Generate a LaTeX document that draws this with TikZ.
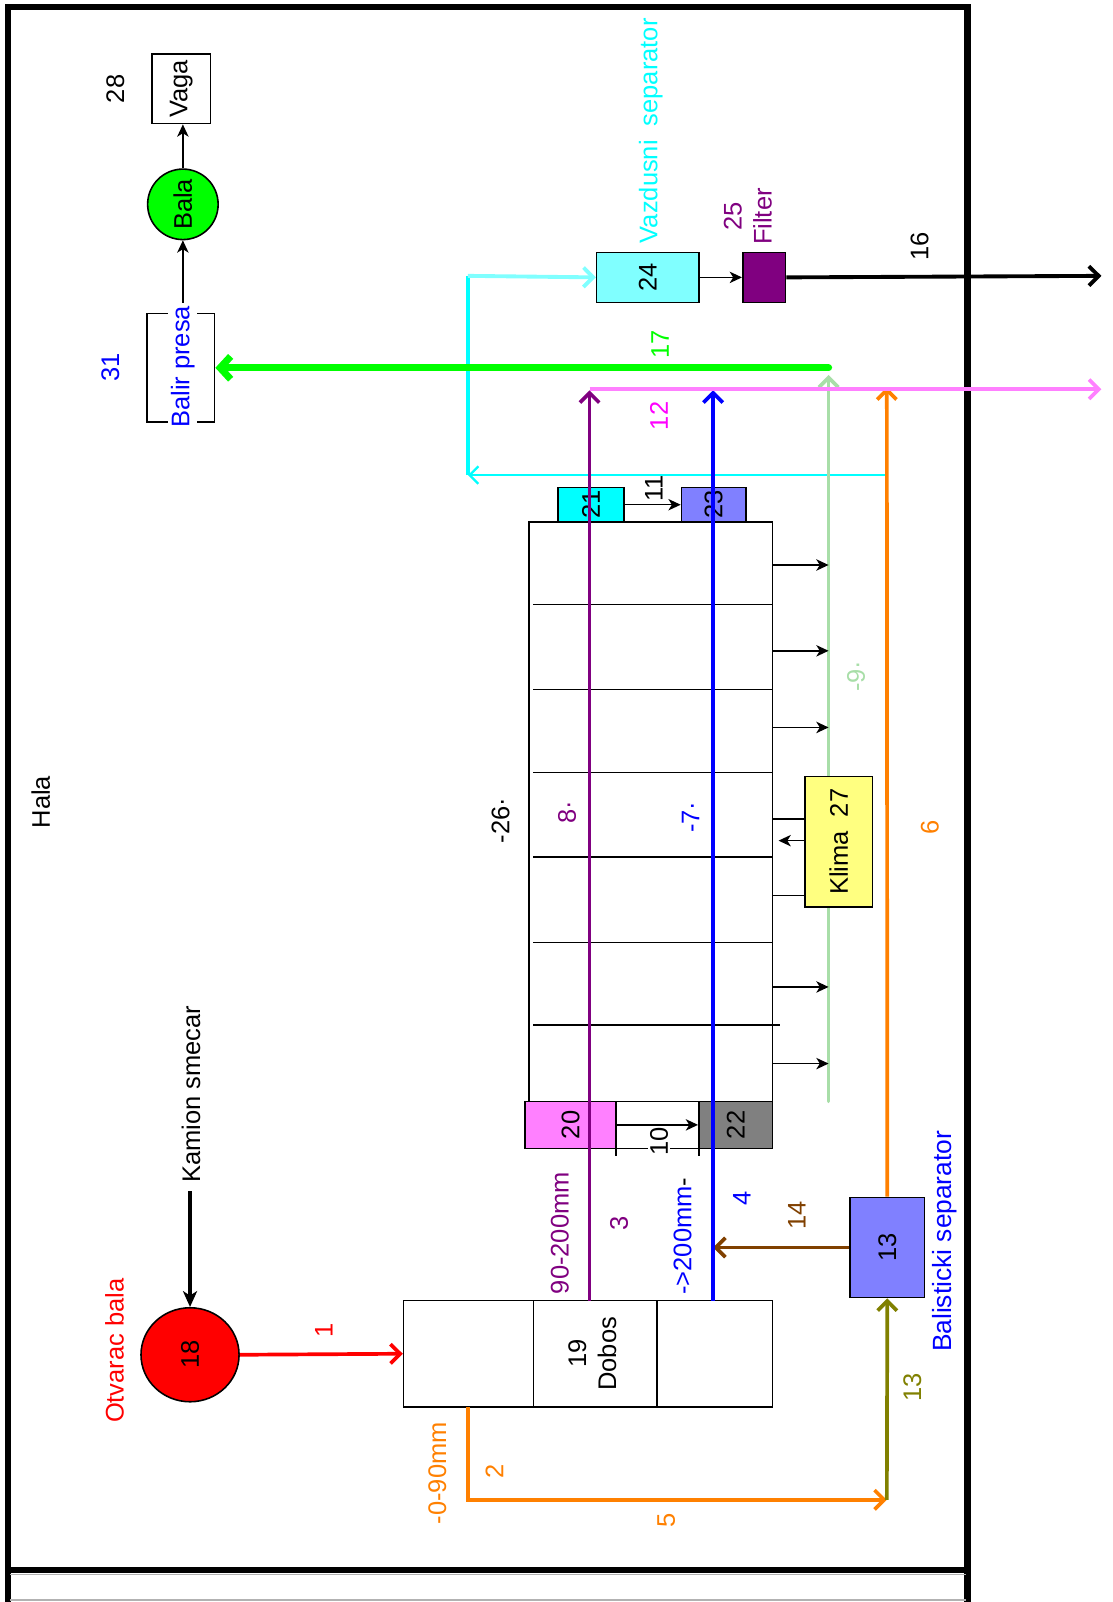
\documentclass[tikz,border=0pt]{standalone}
\usepackage{fontspec}
\setmainfont{Liberation Sans}
\usepackage{graphicx}
\usetikzlibrary{arrows.meta,shapes.geometric}
\definecolor{corange}{RGB}{255,128,0}
\definecolor{colive}{RGB}{128,128,0}
\definecolor{cpurple}{RGB}{128,0,128}
\definecolor{cbrown}{RGB}{128,64,0}
\definecolor{clgreen}{RGB}{168,222,168}
\definecolor{cgreen}{RGB}{0,255,0}
\definecolor{cpink}{RGB}{255,128,255}
\definecolor{cmagenta}{RGB}{255,0,255}
\definecolor{ccyan}{RGB}{0,255,255}
\definecolor{clcyan}{RGB}{128,255,255}
\definecolor{cblbox}{RGB}{128,128,255}
\definecolor{cgray}{RGB}{128,128,128}
\definecolor{cyellow}{RGB}{255,255,128}
\definecolor{cred}{RGB}{255,0,0}
\definecolor{cblue}{RGB}{0,0,255}
\def\uu{0.02043cm}
\begin{document}
\begin{tikzpicture}[x=0.02043cm,y=-0.02043cm,
  every node/.style={font=\fontsize{14.5}{17}\selectfont, inner sep=0pt},
  sz/.style 2 args={minimum width=#1*\uu, minimum height=#2*\uu},
  bx/.style={draw, line width=0.9pt, rectangle},
  lbl/.style={rotate=90},
  cline/.style={line width=2.1pt},
  chead/.style={-{Straight Barb[length=5.5pt,width=11pt]}},
  bhead/.style={-{Stealth[length=7pt,width=6.5pt,inset=2pt]}},
  tarrow/.style={line width=0.8pt, bhead},
]
\useasboundingbox (0,0) rectangle (1089,1568);
% frame
\draw[line width=3.5pt] (8,1575) -- (8,7) -- (947,7) -- (947,1575);
\draw[line width=3.5pt] (8,1537) -- (947,1537);
\draw[gray!60, line width=0.6pt] (10,1541) -- (945,1541) (10,1566) -- (945,1566);

% boxes
\node[bx, ellipse, sz={96}{92}, fill=cred] (n18) at (186,1326) {\rotatebox{90}{18}};
\node[bx, sz={127}{104}] (d1) at (458.5,1325) {};
\node[bx, sz={121}{104}] (d2) at (582.5,1325) {\rotatebox{90}{\begin{tabular}{@{}c@{}}19\\Dobos\end{tabular}}};
\node[bx, sz={113}{104}] (d3) at (699.5,1325) {};
\node[bx, sz={73}{98}, fill=cblbox] (n13) at (868.5,1221) {\rotatebox{90}{13}};
\node[bx, sz={238}{567}] (n26) at (637,794.5) {};
\node[bx, sz={89}{46}, fill=cpink] (n20) at (558.5,1101) {\rotatebox{90}{20}};
\node[bx, sz={81}{46}] (g10) at (643.5,1101) {};
\node[bx, sz={72}{46}, fill=cgray] (n22) at (720,1101) {\rotatebox{90}{22}};
\node[bx, sz={65}{34}, fill=ccyan] (n21) at (578.5,494) {\rotatebox{90}{21}};
\node[bx, sz={63}{34}, fill=cblbox] (n23) at (698.5,494) {\rotatebox{90}{23}};
\node[bx, sz={100}{49}, fill=clcyan] (n24) at (634,271.5) {\rotatebox{90}{24}};
\node[bx, sz={42}{49}, fill=cpurple] (n25) at (748,271.5) {};
\node[bx, sz={66}{106}] (n31) at (177,360) {};
\node[fill=white, text=cblue, rotate=90, inner sep=1.5pt] (t31) at (179,359) {Balir presa};
\node[bx, circle, sz={69}{69}, fill=cgreen] (bala) at (179,200) {\rotatebox{90}{Bala}};
\node[bx, sz={57}{68}] (vaga) at (177.5,87) {\rotatebox{90}{Vaga}};

% cabinet dividers
\foreach \yy in {591.5,674.7,756,839,922.3}
  \draw[line width=0.9pt] (522,\yy) -- (756,\yy);
\draw[line width=0.9pt] (522,1003.2) -- (763,1003.2);
% gap 10 ticks and label
\draw[line width=0.9pt] (603,1124) -- (603,1131) (684,1124) -- (684,1131);
\node[fill=white, rotate=90, inner sep=1pt] (t10) at (645,1117) {10};

% labels
\node[lbl] (thala) at (40,785) {Hala};
\node[lbl] (tkam) at (187,1071) {Kamion smecar};
\node[lbl, text=cred] (totv) at (112,1322) {Otvarac bala};
\node[lbl, text=cred] (t1) at (317,1302) {1};
\node[lbl, text=corange] (t090) at (428,1442) {-0-90mm};
\node[lbl, text=corange] (t2) at (484,1440) {2};
\node[lbl, text=corange] (t5) at (652,1488) {5};
\node[lbl, text=cpurple] (t90) at (548,1207) {90-200mm};
\node[lbl, text=cpurple] (t3) at (606,1197) {3};
\node[lbl, text=cblue] (t200) at (668,1210) {->200mm\textcolor{black}{-}};
\node[lbl, text=cblue] (t4) at (726,1173) {4};
\node[lbl, text=cbrown] (t14) at (780,1190) {14};
\node[lbl, text=colive] (t13) at (893,1358) {13};
\node[lbl, text=cblue, font=\fontsize{15}{17}\selectfont] (tbal) at (925,1215) {Balisticki separator};
\node[lbl, text=corange] (t6) at (910,810) {6};
\node[lbl, text=clgreen] (t9) at (838,662) {-9·};
\node[lbl, text=cblue] (t7) at (676,800) {-7·};
\node[lbl, text=cpurple] (t8) at (555,795) {8·};
\node[lbl] (t26) at (490,803) {-26·};
\node[lbl, text=cmagenta] (t12) at (645,407) {12};
\node[lbl, text=cgreen] (t17) at (646,337) {17};
\node[lbl] (t11) at (640,478) {11};
\node[lbl, text=ccyan] (tvaz) at (637,128) {Vazdusni\ \ separator};
\node[lbl, text=cpurple, align=center] (tfil) at (732,212) {25\\Filter};
\node[lbl] (t16) at (900,241) {16};
\node[lbl, text=cblue] (t31n) at (108,360) {31};
\node[lbl] (t28) at (113,87) {28};

% coordinates
\coordinate (kam) at (186,1166);
\coordinate (o2) at (458,1377);
\coordinate (o5) at (458,1468);
\coordinate (o13) at (868,1468);
\coordinate (p6) at (868,379);
\coordinate (b14) at (698,1221);
\coordinate (pu0) at (577,1273);
\coordinate (pu1) at (577,382);
\coordinate (bl0) at (698,1273);
\coordinate (bl1) at (698,382);
\coordinate (pk0) at (577,381);
\coordinate (pk1) at (1078,381);
\coordinate (lg0) at (811,1078);
\coordinate (lg1) at (811,367);
\coordinate (gr0) at (811,360);
\coordinate (cy0) at (868,465);
\coordinate (cy1) at (458,465);
\coordinate (cy2) at (458,270);
\coordinate (out16) at (1078,270);

% connectors
\draw[line width=1.8pt, -{Stealth[length=9pt,width=8pt,inset=2.5pt]}] (kam) -- (n18.north);
\draw[cline, cred, chead] (n18.east) -- (d1.west);
\draw[cline, corange, chead] (o2) -- (o5) -- (o13);
\draw[cline, colive, chead] (o13) -- (n13.south);
\draw[line width=1.3pt, ccyan, -{Straight Barb[length=5pt,width=10pt]}] (cy0) -- (cy1);
\draw[line width=2pt, ccyan] (cy1) -- (cy2);
\draw[line width=2.2pt, clcyan, chead] (cy2) -- (n24.west);
\draw[cline, corange, chead] (n13.north) -- (p6);
\draw[cline, cbrown, chead] (n13.west) -- (b14);
\draw[cline, clgreen, chead, line cap=round] (lg0) -- (lg1);
\draw[cline, cpurple, chead] (pu0) -- (pu1);
\draw[cline, cblue, chead] (bl0) -- (bl1);
\draw[cline, cpink, chead] (pk0) -- (pk1);
\draw[line width=4pt, cgreen, line cap=round, -{Straight Barb[length=6pt,width=13pt]}] (gr0) -- (n31.east);
\draw[tarrow] (n24.east) -- (n25.west);
\draw[line width=2.2pt, -{Straight Barb[length=5.5pt,width=11pt]}] (n25.east) -- (out16);
\draw[tarrow] (t31.east) -- (bala.south);
\draw[tarrow] (bala.north) -- (bala.north |- vaga.south);
\draw[tarrow] (n20.east) -- (n22.west);
\draw[tarrow] (n21.east) -- (n23.west);
\foreach \yy in {553,637,712,966,1041}
  \draw[tarrow] (756,\yy) -- (811,\yy);

% Klima
\node[bx, sz={66}{128}, fill=cyellow] (n27) at (821,824) {\rotatebox{90}{Klima\ \ 27}};
\draw[line width=0.9pt] (756,801.6) -- (788,801.6);
\draw[line width=0.9pt] (756,876.6) -- (788,876.6);
\draw[tarrow] (788,822.8) -- (762,822.8);
\end{tikzpicture}
\end{document}
